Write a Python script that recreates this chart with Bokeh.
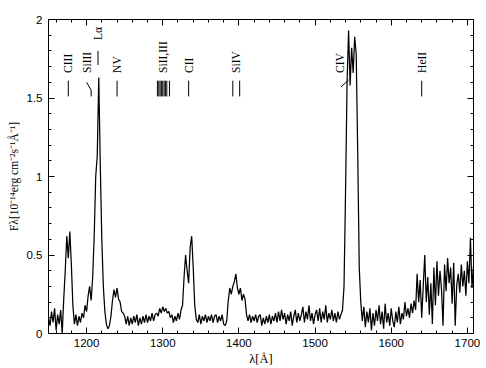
import numpy as np
from bokeh.plotting import figure
from bokeh.models import LinearAxis, FixedTicker, CustomJSTickFormatter, Range1d
from bokeh.embed import file_html
from bokeh.resources import INLINE
from bokeh.core.properties import value

# ---- spectrum (flux in 1e-14 erg/cm2/s/A), sampled every 2 A from 1150 A ----
WAVE_START = 1150.0
WAVE_STEP = 2.0

flux_1150_1248 = [0.10, 0.05, 0.14, 0.07, 0.16, 0.02, 0.12, 0.06, 0.15, 0.00,
                  0.22, 0.40, 0.62, 0.48, 0.65, 0.44, 0.18, 0.06, 0.12, 0.05,
                  0.11, 0.07, 0.13, 0.10, 0.18, 0.14, 0.24, 0.30, 0.21, 0.36,
                  0.62, 1.00, 1.13, 1.63, 1.07, 0.60, 0.30, 0.14, 0.06, 0.03,
                  0.05, 0.11, 0.21, 0.28, 0.23, 0.29, 0.22, 0.20, 0.14, 0.13]
flux_1250_1348 = [0.11, 0.06, 0.11, 0.05, 0.10, 0.06, 0.11, 0.07, 0.12, 0.05,
                  0.10, 0.06, 0.11, 0.07, 0.12, 0.07, 0.11, 0.08, 0.13, 0.08,
                  0.12, 0.13, 0.11, 0.16, 0.13, 0.17, 0.14, 0.16, 0.13, 0.14,
                  0.10, 0.12, 0.07, 0.11, 0.08, 0.13, 0.09, 0.15, 0.18, 0.36,
                  0.50, 0.40, 0.32, 0.55, 0.62, 0.42, 0.18, 0.09, 0.07, 0.12]
flux_1350_1448 = [0.06, 0.11, 0.08, 0.12, 0.07, 0.11, 0.08, 0.12, 0.07, 0.11,
                  0.12, 0.07, 0.11, 0.08, 0.12, 0.06, 0.05, 0.08, 0.21, 0.29,
                  0.25, 0.30, 0.33, 0.38, 0.29, 0.25, 0.29, 0.21, 0.25, 0.22,
                  0.12, 0.08, 0.12, 0.07, 0.11, 0.08, 0.12, 0.07, 0.11, 0.12,
                  0.05, 0.10, 0.06, 0.11, 0.07, 0.12, 0.06, 0.11, 0.08, 0.13]
flux_1450_1548 = [0.07, 0.14, 0.08, 0.15, 0.09, 0.13, 0.06, 0.12, 0.08, 0.14,
                  0.05, 0.11, 0.15, 0.07, 0.13, 0.08, 0.12, 0.17, 0.07, 0.14,
                  0.09, 0.18, 0.08, 0.13, 0.06, 0.12, 0.15, 0.08, 0.16, 0.07,
                  0.14, 0.09, 0.18, 0.07, 0.13, 0.09, 0.15, 0.08, 0.13, 0.07,
                  0.14, 0.09, 0.12, 0.15, 0.30, 0.90, 1.60, 1.93, 1.58, 1.82]
flux_1550_1648 = [1.66, 1.89, 1.78, 1.15, 0.42, 0.20, 0.08, 0.17, 0.04, 0.14,
                  0.07, 0.16, 0.02, 0.13, 0.05, 0.15, 0.08, 0.18, 0.06, 0.14,
                  0.03, 0.19, 0.07, 0.13, 0.05, 0.16, 0.08, 0.04, 0.14, 0.07,
                  0.17, 0.06, 0.13, 0.09, 0.20, 0.11, 0.16, 0.10, 0.19, 0.13,
                  0.21, 0.15, 0.38, 0.20, 0.34, 0.10, 0.30, 0.50, 0.20, 0.36]
flux_1650_1708 = [0.12, 0.32, 0.06, 0.42, 0.18, 0.46, 0.24, 0.40, 0.28, 0.05,
                  0.44, 0.27, 0.48, 0.32, 0.42, 0.19, 0.45, 0.05, 0.31, 0.38,
                  0.26, 0.44, 0.30, 0.40, 0.24, 0.46, 0.32, 0.61, 0.29, 0.43]

flux = (flux_1150_1248 + flux_1250_1348 + flux_1350_1448 +
        flux_1450_1548 + flux_1550_1648 + flux_1650_1708)
wave = WAVE_START + WAVE_STEP * np.arange(len(flux))

# ---- line identifications ----
line_names = ["CIII", "SiIII", "Lα", "NV", "SiII,III", "CII", "SiIV", "CIV", "HeII"]
label_wave = [1176, 1200, 1215, 1240, 1300, 1334, 1396, 1533, 1640]
label_flux = [1.66, 1.66, 1.87, 1.66, 1.66, 1.66, 1.66, 1.66, 1.66]

tick_wave = [1176, 1206, 1215, 1240,
             1293, 1294.8, 1296.5, 1298.2, 1300, 1301.8, 1303.5, 1305.3, 1308.8,
             1334, 1392, 1401, 1640]
tick_low = [1.51, 1.51, 1.71, 1.51,
            1.51, 1.51, 1.51, 1.51, 1.51, 1.51, 1.51, 1.51, 1.51,
            1.51, 1.51, 1.51, 1.51]
tick_high = [1.61, 1.55, 1.80, 1.61,
             1.61, 1.61, 1.61, 1.61, 1.61, 1.61, 1.61, 1.61, 1.61,
             1.61, 1.61, 1.61, 1.61]
# slanted connectors (SiIII, CIV)
slant_w0 = [1200, 1534]
slant_f0 = [1.60, 1.57]
slant_w1 = [1206, 1544]
slant_f1 = [1.55, 1.615]

x_major = [1200, 1300, 1400, 1500, 1600, 1700]
x_minor = [v for v in range(1160, 1710, 20)]
y_major = [0, 0.5, 1, 1.5, 2]
y_minor = [round(0.1 * i, 1) for i in range(0, 21)]

p = figure(width=486, height=368, output_backend="svg", toolbar_location=None,
           x_range=Range1d(1150, 1708), y_range=Range1d(0, 2),
           min_border_left=48, min_border_right=13, min_border_top=19, min_border_bottom=33,
           background_fill_color="white", border_fill_color="white")
p.outline_line_color = "black"
p.grid.visible = False

p.line(wave, flux, line_color="black", line_width=1.25)

p.segment(x0=tick_wave, y0=tick_low, x1=tick_wave, y1=tick_high, line_color="black", line_width=1)
p.segment(x0=slant_w0, y0=slant_f0, x1=slant_w1, y1=slant_f1, line_color="black", line_width=1)
p.text(x=label_wave, y=label_flux, text=line_names, angle=np.pi / 2,
       text_align="left", text_baseline="middle",
       text_font=value("Liberation Serif"), text_font_size="11.5px", text_color="black")

xt = FixedTicker(ticks=x_major, minor_ticks=x_minor)
yt = FixedTicker(ticks=y_major, minor_ticks=y_minor)
blank = CustomJSTickFormatter(code="return ''")

def style(ax):
    ax.axis_line_color = "black"
    ax.major_tick_line_color = "black"
    ax.minor_tick_line_color = "black"
    ax.major_tick_in = 6
    ax.major_tick_out = 0
    ax.minor_tick_in = 3
    ax.minor_tick_out = 0
    ax.major_label_text_font = "Liberation Sans"
    ax.major_label_text_font_size = "11.5px"
    ax.major_label_text_color = "black"
    ax.axis_label_text_font = "Liberation Serif"
    ax.axis_label_text_font_style = "normal"
    ax.axis_label_text_color = "black"

p.xaxis.ticker = xt
p.yaxis.ticker = yt
p.yaxis.formatter = CustomJSTickFormatter(code="return String(tick)")
for ax in p.xaxis + p.yaxis:
    style(ax)
p.xaxis.axis_label = "λ[Å]"
p.xaxis.axis_label_text_font_size = "12.5px"
p.xaxis.major_label_standoff = 5
p.xaxis.axis_label_standoff = 2
p.yaxis.axis_label = "Fλ[10⁻¹⁴erg cm⁻²s⁻¹Å⁻¹]"
p.yaxis.axis_label_text_font_size = "11.5px"
p.yaxis.major_label_standoff = 6
p.yaxis.axis_label_standoff = 4

top = LinearAxis(ticker=xt, formatter=blank)
right = LinearAxis(ticker=yt, formatter=blank)
style(top)
style(right)
top.major_label_standoff = 0
right.major_label_standoff = 0
p.add_layout(top, "above")
p.add_layout(right, "right")

open("out.html", "w").write(file_html(p, INLINE))
